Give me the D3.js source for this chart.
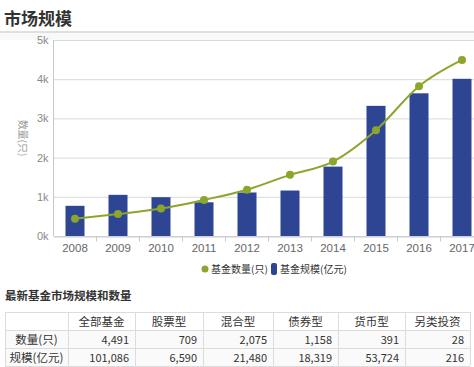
<!DOCTYPE html>
<html>
<head>
<meta charset="utf-8">
<script src="https://cdn.jsdelivr.net/npm/d3@7"></script>
<style>
  body { margin: 0; background: #fff; }
  svg { display: block; font-family: "Noto Sans CJK SC", "Noto Sans", sans-serif; }
</style>
</head>
<body>
<div id="chart"></div>
<script>
// chart data
var years = ["2008", "2009", "2010", "2011", "2012", "2013", "2014", "2015", "2016", "2017"];
var fundScale = [770, 1050, 990, 860, 1110, 1160, 1770, 3320, 3640, 4010];   // 基金规模(亿元), shown in k
var fundCount = [440, 560, 700, 920, 1180, 1560, 1900, 2700, 3820, 4491];    // 基金数量(只)
var yTicks = [0, 1000, 2000, 3000, 4000, 5000];

// table data
var tableCols = ["全部基金", "股票型", "混合型", "债券型", "货币型", "另类投资"];
var rowLabels = ["数量(只)", "规模(亿元)"];
var countRow = [4491, 709, 2075, 1158, 391, 28];
var scaleRow = [101086, 6590, 21480, 18319, 53724, 216];

var W = 474, H = 367;
var barColor = "#2e4594", lineColor = "#8ca52c";

var svg = d3.select("#chart").append("svg")
  .attr("width", W)
  .attr("height", H);

// title + header rule
svg.append("text")
  .attr("x", 4).attr("y", 25)
  .attr("font-size", 17).attr("font-weight", "bold")
  .attr("fill", "#333")
  .text("市场规模");

svg.append("rect")
  .attr("x", 0).attr("y", 32).attr("width", W).attr("height", 8)
  .attr("fill", "#f7f9fb");
svg.append("line")
  .attr("x1", 0).attr("x2", W).attr("y1", 32).attr("y2", 32)
  .attr("stroke", "#d6d6d6").attr("stroke-width", 1.5);

var xPositionScale = d3.scaleBand()
  .domain(years)
  .range([53.5, 483.5]);

var yPositionScale = d3.scaleLinear()
  .domain([0, 5000])
  .range([236, 40]);

// grid + y axis
var yAxis = d3.axisLeft(yPositionScale)
  .tickValues(yTicks)
  .tickSize(-(W - 53))
  .tickPadding(5)
  .tickFormat(function(d) { return (d / 1000) + "k"; });

var yg = svg.append("g")
  .attr("class", "y-axis")
  .attr("transform", "translate(53.5,0)")
  .call(yAxis);
yg.select(".domain").remove();
yg.selectAll(".tick line").attr("stroke", "#d9d9d9");
yg.selectAll(".tick text").attr("fill", "#8a8a8a").attr("font-size", 11);

svg.append("line")
  .attr("x1", 53.5).attr("x2", 53.5)
  .attr("y1", 40).attr("y2", 236)
  .attr("stroke", "#c8c8c8");

svg.append("text")
  .attr("transform", "translate(19,138) rotate(90)")
  .attr("text-anchor", "middle")
  .attr("font-size", 10)
  .attr("fill", "#999")
  .text("数量(只)");

// bars
svg.selectAll(".bar")
  .data(fundScale)
  .enter().append("rect")
  .attr("class", "bar")
  .attr("x", function(d, i) { return xPositionScale(years[i]) + xPositionScale.bandwidth() / 2 - 9.5; })
  .attr("width", 19)
  .attr("y", function(d) { return yPositionScale(d); })
  .attr("height", function(d) { return yPositionScale(0) - yPositionScale(d); })
  .attr("fill", barColor);

// x axis
var xAxis = d3.axisBottom(xPositionScale).tickSize(0).tickPadding(7);
var xg = svg.append("g")
  .attr("class", "x-axis")
  .attr("transform", "translate(0,236.5)")
  .call(xAxis);
xg.select(".domain").attr("stroke", "#c8c8c8");
xg.selectAll(".tick text").attr("fill", "#666").attr("font-size", 11.5);
xg.selectAll(".sep")
  .data(years)
  .enter().append("line")
  .attr("class", "sep")
  .attr("x1", function(d) { return xPositionScale(d) + xPositionScale.bandwidth(); })
  .attr("x2", function(d) { return xPositionScale(d) + xPositionScale.bandwidth(); })
  .attr("y1", 0).attr("y2", 5)
  .attr("stroke", "#c8c8c8");

// count line
var line = d3.line()
  .x(function(d, i) { return xPositionScale(years[i]) + xPositionScale.bandwidth() / 2; })
  .y(function(d) { return yPositionScale(d); })
  .curve(d3.curveMonotoneX);

svg.append("path")
  .datum(fundCount)
  .attr("d", line)
  .attr("fill", "none")
  .attr("stroke", lineColor)
  .attr("stroke-width", 2);

svg.selectAll(".dot")
  .data(fundCount)
  .enter().append("circle")
  .attr("class", "dot")
  .attr("cx", function(d, i) { return xPositionScale(years[i]) + xPositionScale.bandwidth() / 2; })
  .attr("cy", function(d) { return yPositionScale(d); })
  .attr("r", 4)
  .attr("fill", lineColor);

// legend
var legend = svg.append("g").attr("transform", "translate(0,269)");
legend.append("circle").attr("cx", 205).attr("cy", 0).attr("r", 3.5).attr("fill", lineColor);
legend.append("text").attr("x", 211).attr("y", 4).attr("font-size", 10).attr("fill", "#333").text("基金数量(只)");
legend.append("rect").attr("x", 271).attr("y", -6).attr("width", 6).attr("height", 12).attr("rx", 2).attr("fill", barColor);
legend.append("text").attr("x", 280).attr("y", 4).attr("font-size", 10).attr("fill", "#333").text("基金规模(亿元)");

// table
svg.append("text")
  .attr("x", 5).attr("y", 300)
  .attr("font-size", 11.5).attr("font-weight", "bold")
  .attr("fill", "#333")
  .text("最新基金市场规模和数量");

var colEdges = [5, 68, 135, 203, 273, 338, 405, 470];
var rowEdges = [312, 330, 348, 366];
var fmt = d3.format(",");

svg.append("rect")
  .attr("x", colEdges[0]).attr("y", rowEdges[1])
  .attr("width", colEdges[7] - colEdges[0]).attr("height", rowEdges[3] - rowEdges[1])
  .attr("fill", "#fafafa");

var tbl = svg.append("g").attr("stroke", "#dcdcdc").attr("fill", "none");
rowEdges.forEach(function(y) {
  tbl.append("line").attr("x1", colEdges[0]).attr("x2", colEdges[7]).attr("y1", y + 0.5).attr("y2", y + 0.5);
});
colEdges.forEach(function(x) {
  tbl.append("line").attr("x1", x + 0.5).attr("x2", x + 0.5).attr("y1", rowEdges[0]).attr("y2", rowEdges[3]);
});

var cellText = svg.append("g").attr("font-size", 11.5).attr("fill", "#333");

tableCols.forEach(function(c, i) {
  cellText.append("text")
    .attr("x", (colEdges[i + 1] + colEdges[i + 2]) / 2)
    .attr("y", rowEdges[0] + 13.5)
    .attr("text-anchor", "middle")
    .text(c);
});

rowLabels.forEach(function(r, j) {
  cellText.append("text")
    .attr("x", (colEdges[0] + colEdges[1]) / 2)
    .attr("y", rowEdges[j + 1] + 13.5)
    .attr("text-anchor", "middle")
    .text(r);
});

[countRow, scaleRow].forEach(function(row, j) {
  row.forEach(function(v, i) {
    cellText.append("text")
      .attr("x", colEdges[i + 2] - 6)
      .attr("y", rowEdges[j + 1] + 13.5)
      .attr("text-anchor", "end")
      .attr("font-size", 11)
      .text(fmt(v));
  });
});
</script>
</body>
</html>
